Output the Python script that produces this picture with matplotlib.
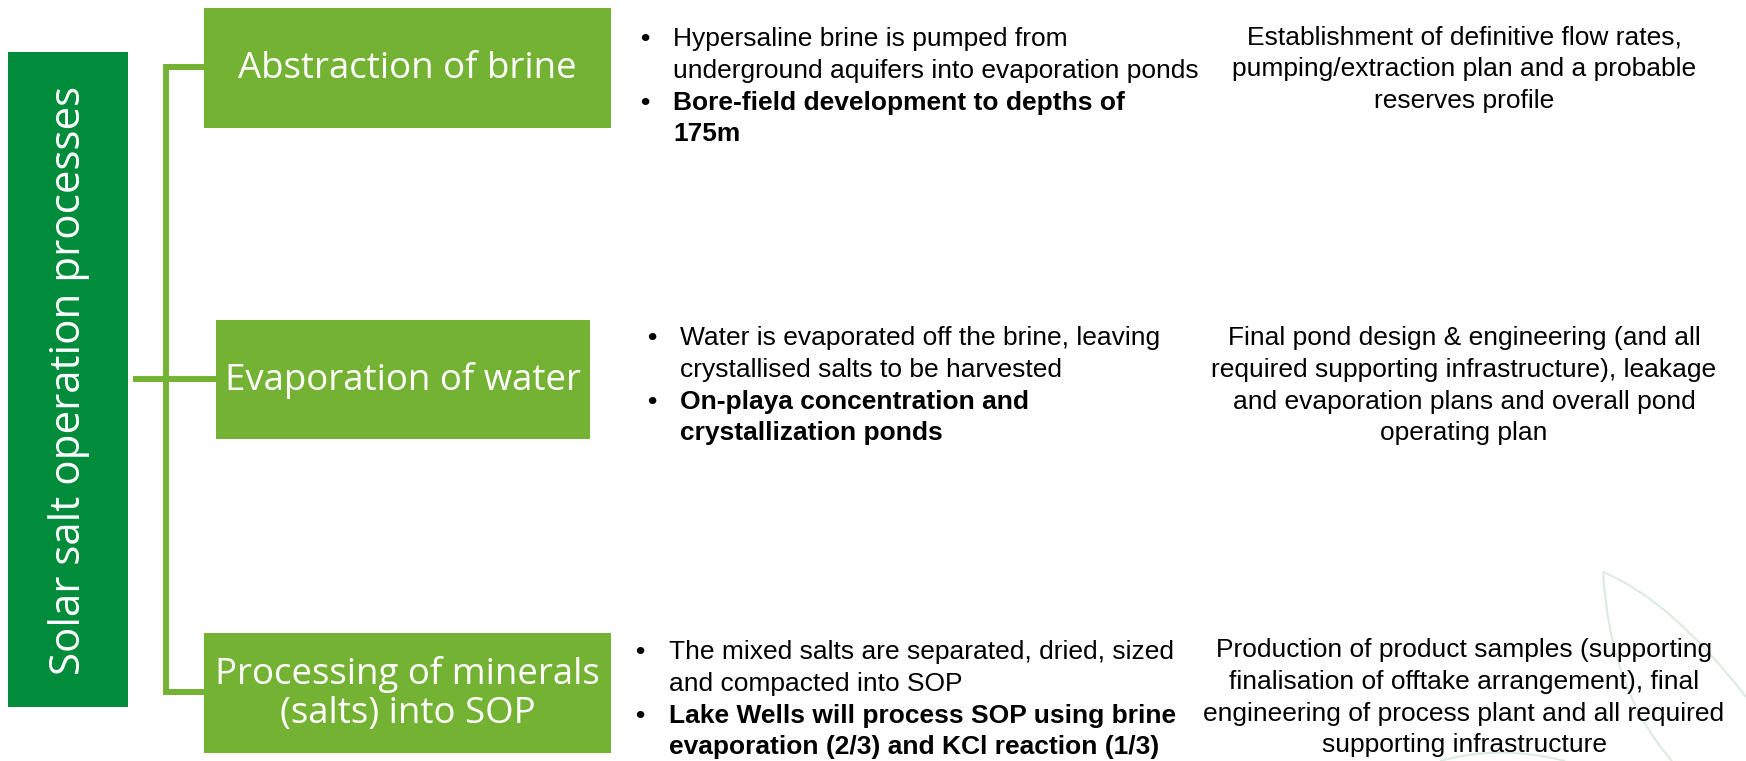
import matplotlib
matplotlib.use("Agg")
import matplotlib.pyplot as plt
from matplotlib.patches import Rectangle, PathPatch
from matplotlib.path import Path

# ---- content ----
title = "Solar salt operation processes"
steps = ["Abstraction of brine", "Evaporation of water", "Processing of minerals\n(salts) into SOP"]
bullets_plain = [
    ["Hypersaline brine is pumped from", "underground aquifers into evaporation ponds"],
    ["Water is evaporated off the brine, leaving", "crystallised salts to be harvested"],
    ["The mixed salts are separated, dried, sized", "and compacted into SOP"],
]
bullets_bold = [
    ["Bore-field development to depths of", "175m"],
    ["On-playa concentration and", "crystallization ponds"],
    ["Lake Wells will process SOP using brine", "evaporation (2/3) and KCl reaction (1/3)"],
]
outcomes = [
    ["Establishment of definitive flow rates,", "pumping/extraction plan and a probable", "reserves profile"],
    ["Final pond design & engineering (and all", "required supporting infrastructure), leakage",
     "and evaporation plans and overall pond", "operating plan"],
    ["Production of product samples (supporting", "finalisation of offtake arrangement), final",
     "engineering of process plant and all required", "supporting infrastructure"],
]

# ---- layout (pixels of a 1746x761 canvas) ----
W, H = 1746, 761
dark = "#008C3A"
light = "#74B234"
boxes = [(204, 8, 407, 120), (216, 320, 374, 119), (204, 633, 407, 120)]  # x, y, w, h
bullet_x = [640, 647, 635]
text_x = [673, 680, 669]
first_y = [39, 338, 652]
right_y = [37, 338, 650]
line_h = 31.8
right_cx = 1464
fs = 19

fig = plt.figure(figsize=(W / 100, H / 100), dpi=100)
ax = fig.add_axes([0, 0, 1, 1])
ax.set_xlim(0, W)
ax.set_ylim(H, 0)
ax.axis("off")

# faint leaf outlines in the corner (behind the text)
leaf = Path([(1603, 572), (1671, 600), (1746, 697),
             (1603, 572), (1610, 690), (1672, 761),
             (1440, 761), (1500, 744), (1565, 761)],
            [Path.MOVETO, Path.CURVE3, Path.CURVE3,
             Path.MOVETO, Path.CURVE3, Path.CURVE3,
             Path.MOVETO, Path.CURVE3, Path.CURVE3])
ax.add_patch(PathPatch(leaf, fill=False, edgecolor="#DCEBE2", lw=1.5, zorder=0))

# title bar
ax.add_patch(Rectangle((8, 52), 120, 655, color=dark, lw=0))
ax.text(69, 380, title, rotation=90, ha="center", va="center", color="white",
        fontsize=30.3, family="Open Sans")

# bracket
lw = 4.3
ax.plot([204, 166, 166, 204], [67, 67, 692, 692], color=light, lw=lw,
        solid_joinstyle="miter", solid_capstyle="butt")
ax.plot([133, 216], [379, 379], color=light, lw=lw, solid_capstyle="butt")

for i, (bx, by, bw, bh) in enumerate(boxes):
    ax.add_patch(Rectangle((bx, by), bw, bh, color=light, lw=0))
    ax.text(bx + bw / 2, by + bh / 2 + 1, steps[i], ha="center", va="center",
            color="white", fontsize=26.4, family="Open Sans", linespacing=1.12)

    y = first_y[i]
    for j, lines in enumerate([bullets_plain[i], bullets_bold[i]]):
        ax.text(bullet_x[i], y, "\u2022", ha="left", va="center", fontsize=fs,
                family="Liberation Sans", color="black", fontweight="bold")
        for ln in lines:
            ax.text(text_x[i], y, ln, ha="left", va="center", fontsize=fs,
                    family="Liberation Sans", color="black",
                    fontweight="bold" if j == 1 else "normal")
            y += line_h

    y = right_y[i]
    for ln in outcomes[i]:
        ax.text(right_cx, y, ln, ha="center", va="center", fontsize=fs,
                family="Liberation Sans", color="black")
        y += line_h

fig.savefig("out.png", dpi=100)
